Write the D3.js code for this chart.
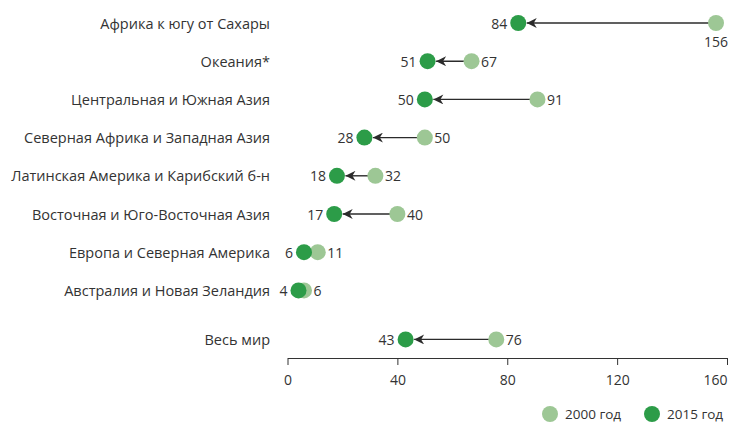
<!DOCTYPE html>
<html lang="ru">
<head>
  <meta charset="UTF-8">
  <title>2000 vs 2015</title>
  <script src="https://d3js.org/d3.v7.min.js"></script>
  <style>
    body { margin: 0; background: #fff; }
    text { font-family: "Open Sans", "Noto Sans", sans-serif; fill: #333; }
  </style>
</head>
<body>
  <div id="chart"></div>
  <script>
    // данные
    const regions = [
      "Африка к югу от Сахары",
      "Океания*",
      "Центральная и Южная Азия",
      "Северная Африка и Западная Азия",
      "Латинская Америка и Карибский б-н",
      "Восточная и Юго-Восточная Азия",
      "Европа и Северная Америка",
      "Австралия и Новая Зеландия"
    ];
    const values2000 = [156, 67, 91, 50, 32, 40, 11, 6];
    const values2015 = [84, 51, 50, 28, 18, 17, 6, 4];

    const worldLabel = "Весь мир";
    const world2000 = 76;
    const world2015 = 43;

    const xTicks = [0, 40, 80, 120, 160];
    const legendLabels = ["2000 год", "2015 год"];

    const colorOld = "#9dc795";
    const colorNew = "#2c9c48";
    const r = 8;

    function drawChart() {
      const width = 731, height = 423;
      const svg = d3.select("#chart").append("svg")
        .attr("width", width)
        .attr("height", height);

      const x = d3.scaleLinear().domain([0, 160]).range([287.5, 727]);
      const y = d3.scalePoint().domain(regions).range([23, 290.4]);
      const worldY = y(regions[regions.length - 1]) + 49;

      const rows = regions.map((name, i) => ({ name, a: values2000[i], b: values2015[i], y: y(name) }));
      rows.push({ name: worldLabel, a: world2000, b: world2015, y: worldY });

      // стрелка
      svg.append("defs").append("marker")
        .attr("id", "arrow")
        .attr("viewBox", "0 0 10 10")
        .attr("refX", 10).attr("refY", 5)
        .attr("markerUnits", "userSpaceOnUse")
        .attr("markerWidth", 11).attr("markerHeight", 10)
        .attr("orient", "auto")
        .append("path")
        .attr("d", "M10,5 L0,0 L3,5 L0,10 Z")
        .attr("fill", "#2b2b2b");

      // подписи категорий
      svg.selectAll(".cat")
        .data(rows)
        .enter().append("text")
        .attr("class", "cat")
        .attr("x", 270)
        .attr("y", d => d.y)
        .attr("text-anchor", "end")
        .attr("dominant-baseline", "central")
        .style("font-size", "14.5px")
        .text(d => d.name);

      // линии со стрелками
      svg.selectAll(".arr")
        .data(rows.filter(d => x(d.a) - x(d.b) > 2 * r + 6))
        .enter().append("line")
        .attr("x1", d => x(d.a))
        .attr("x2", d => x(d.b) + r + 0.5)
        .attr("y1", d => d.y)
        .attr("y2", d => d.y)
        .attr("stroke", "#2b2b2b")
        .attr("stroke-width", 1.4)
        .attr("marker-end", "url(#arrow)");

      // точки 2000
      svg.selectAll(".old")
        .data(rows)
        .enter().append("circle")
        .attr("cx", d => x(d.a))
        .attr("cy", d => d.y)
        .attr("r", r)
        .attr("fill", colorOld);

      // точки 2015
      svg.selectAll(".new")
        .data(rows)
        .enter().append("circle")
        .attr("cx", d => x(d.b))
        .attr("cy", d => d.y)
        .attr("r", r)
        .attr("fill", colorNew);

      // значения 2000
      svg.selectAll(".lblOld")
        .data(rows)
        .enter().append("text")
        .attr("x", d => d.a > 150 ? x(d.a) : x(d.a) + r + 1.5)
        .attr("y", d => d.a > 150 ? d.y + 18 : d.y)
        .attr("text-anchor", d => d.a > 150 ? "middle" : "start")
        .attr("dominant-baseline", "central")
        .style("font-size", "14px")
        .text(d => d.a);

      // значения 2015
      svg.selectAll(".lblNew")
        .data(rows)
        .enter().append("text")
        .attr("x", d => x(d.b) - r - 3)
        .attr("y", d => d.y)
        .attr("text-anchor", "end")
        .attr("dominant-baseline", "central")
        .style("font-size", "14px")
        .text(d => d.b);

      // ось X
      const axis = svg.append("g")
        .attr("transform", "translate(0,358)")
        .call(d3.axisBottom(x).tickValues(xTicks).tickSize(7).tickSizeOuter(0).tickPadding(10));
      axis.select(".domain").attr("stroke", "#333");
      axis.selectAll(".tick line").attr("stroke", "#333");
      axis.selectAll(".tick text")
        .style("font-size", "14px")
        .style("font-family", "'Open Sans', sans-serif")
        .attr("fill", "#333")
        .attr("text-anchor", (d, i) => i === xTicks.length - 1 ? "end" : "middle");

      // легенда
      const legend = svg.append("g").attr("transform", "translate(0,414)");
      const items = legend.selectAll("g")
        .data(legendLabels)
        .enter().append("g")
        .attr("transform", (d, i) => `translate(${550 + i * 102},0)`);
      items.append("circle")
        .attr("r", r)
        .attr("fill", (d, i) => i === 0 ? colorOld : colorNew);
      items.append("text")
        .attr("x", 15)
        .attr("dominant-baseline", "central")
        .style("font-size", "13.5px")
        .attr("fill", "#555")
        .text(d => d);
    }

    drawChart();
  </script>
</body>
</html>
